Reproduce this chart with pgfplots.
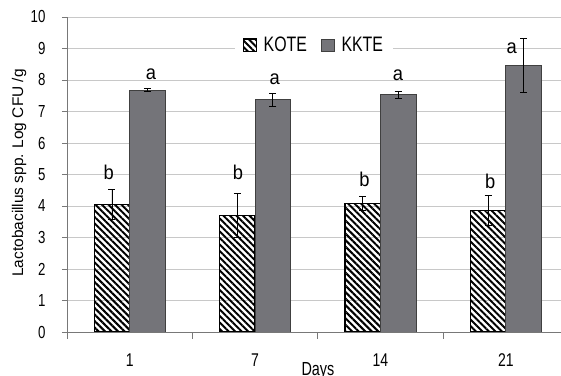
\documentclass[border=0pt]{standalone}
\usepackage{pgfplots}
\pgfplotsset{compat=1.18}
\usepackage{pgfplotstable}
\usetikzlibrary{patterns.meta}
\usepackage{fontspec}
\setmainfont{Liberation Sans}[FakeStretch=0.76]
\newfontfamily\widefont{Liberation Sans}
\newfontfamily\letterfont{Liberation Sans}[FakeStretch=0.92]

\definecolor{kkte}{RGB}{116,116,121}
\definecolor{gridgray}{RGB}{200,200,200}
\definecolor{axisgray}{RGB}{120,120,120}

% Lactobacillus counts (log CFU/g) with standard deviations
\pgfplotstableread{
x y err
0 4.06 0.47
1 3.69 0.70
2 4.08 0.22
3 3.86 0.48
}\kote
\pgfplotstableread{
x y err
0 7.68 0.04
1 7.37 0.20
2 7.53 0.10
3 8.46 0.86
}\kkte

\newcommand{\fs}[1]{\fontsize{#1}{#1}\selectfont}

\begin{document}
\begin{tikzpicture}
\begin{axis}[
  name=ax,
  scale only axis,
  width=494bp, height=315bp,
  xmin=-0.5, xmax=3.44,
  ymin=0, ymax=10,
  ybar=0pt, bar width=35.5bp,
  axis lines*=left,
  axis line style={axisgray, line width=0.9bp},
  tick align=outside,
  xtick={0,1,2,3}, xticklabels={1,7,14,21},
  minor xtick={-0.5,0.5,1.5,2.5},
  major x tick style={draw=none},
  minor x tick style={axisgray, line width=0.9bp},
  minor tick length=7bp,
  major tick length=5bp,
  ytick={0,1,...,10},
  y tick style={axisgray, line width=0.9bp},
  ymajorgrids,
  grid style={gridgray, line width=0.9bp},
  /pgf/number format/assume math mode=true,
  xticklabel style={font=\fs{18.5}, yshift=-13bp},
  yticklabel style={font=\fs{17.5}, xshift=-13bp},
  ylabel={Lactobacillus spp. Log CFU /g},
  ylabel style={font=\widefont\fs{15.5}, at={(axis description cs:-0.097,0.505)}, anchor=center},
  xlabel={Days},
  xlabel style={font=\fs{19}, at={(axis description cs:0.508,-0.1365)}, anchor=base},
  legend columns=2,
  legend style={draw=none, fill=white, font=\fs{21},
    at={(0.50,0.91)}, anchor=center,
    inner xsep=8bp, inner ysep=2bp,
    /tikz/every odd column/.append style={column sep=5bp},
    /tikz/every even column/.append style={column sep=12bp}},
  legend image code/.code={\draw[#1] (0bp,-6.3bp) rectangle (12.6bp,6.3bp);},
  error bars/y dir=both,
  error bars/y explicit,
  error bars/error bar style={black, line width=0.8bp},
  error bars/error mark options={black, line width=0.8bp, mark size=3.5bp, rotate=90},
]
\addplot[draw=black, line width=1.2bp,
  pattern={Lines[angle=-45, distance=4.6bp, line width=2bp]}, pattern color=black]
  table[x=x, y=y, y error=err] {\kote};
\addlegendentry{KOTE}
\addplot[draw=black!75, line width=0.9bp, fill=kkte]
  table[x=x, y=y, y error=err] {\kkte};
\addlegendentry{KKTE}

% significance letters
\begin{scope}[every node/.style={font=\letterfont\fs{20}}]
\node at (axis cs:-0.168,5.08) {b};
\node at (axis cs:0.169,8.18) {a};
\node at (axis cs:0.863,5.08) {b};
\node at (axis cs:1.157,8.04) {a};
\node at (axis cs:1.872,4.83) {b};
\node at (axis cs:2.140,8.14) {a};
\node at (axis cs:2.875,4.79) {b};
\node at (axis cs:3.046,9.02) {a};
\end{scope}
\end{axis}
\pgfresetboundingbox
\path[use as bounding box] ([shift={(-67bp,-44bp)}]ax.south west) rectangle ([shift={(494bp,332bp)}]ax.south west);
\end{tikzpicture}
\end{document}
